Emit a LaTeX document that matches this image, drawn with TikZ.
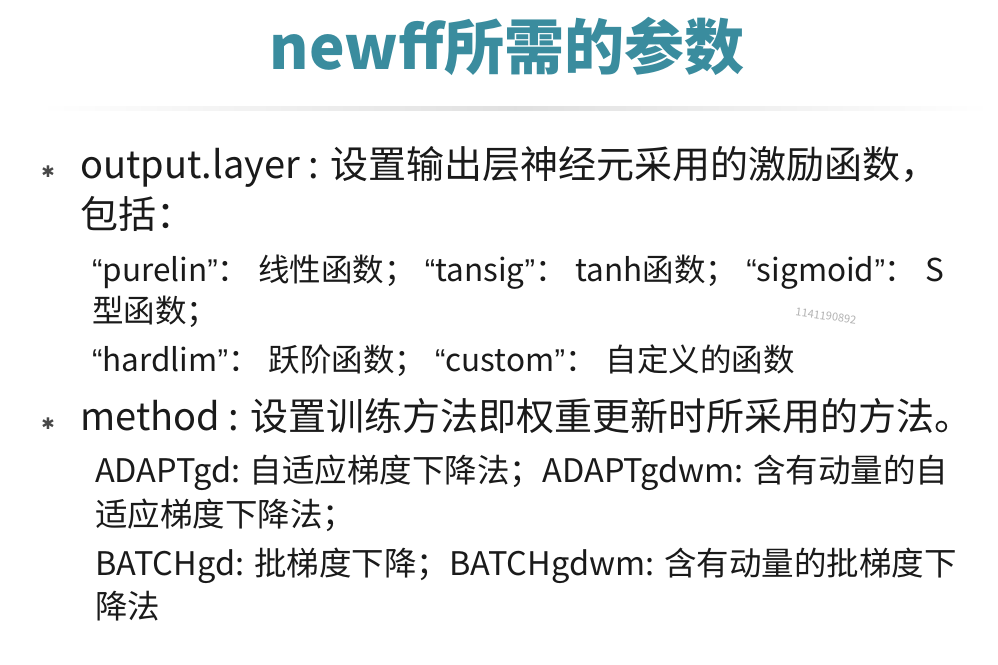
\documentclass[tikz,border=0pt]{standalone}
\usepackage{fontspec}
\setmainfont{Noto Sans CJK SC}
\newfontfamily\djv{DejaVu Sans}
\newfontfamily\lib{Liberation Sans}
\newcommand{\myLq}{{\lib “}}
\newcommand{\myRq}{{\lib ”}}
\newcommand{\gp}{\hspace{9pt}}
\definecolor{titlec}{HTML}{3A8C9E}
\definecolor{txt}{HTML}{1A1A1A}
\tikzset{
  big/.style={anchor=base west,inner sep=0,text=txt,font=\fontsize{38}{40}\selectfont},
  small/.style={anchor=base west,inner sep=0,text=txt,font=\fontsize{32.5}{34}\selectfont},
  bul/.style={anchor=center,inner sep=0,text=txt!80,font=\djv\fontsize{16}{16}\selectfont}
}
\begin{document}
\begin{tikzpicture}[x=1pt,y=-1pt]
\useasboundingbox[fill=white] (0,0) rectangle (998,664);
\node[anchor=center,text=titlec,font=\fontsize{60}{62}\selectfont\bfseries] (title) at (507,46) {newff所需的参数};
\shade[left color=white,right color=white,middle color=black!12] (40,106) rectangle (990,110);
\node[bul] (b1) at (48,172) {✱};
\node[big] (l1) at (80,178) {output.layer : 设置输出层神经元采用的激励函数，};
\node[big] (l2) at (80,228) {包括：};
\node[small,font=\fontsize{31.5}{34}\selectfont] (l3) at (92,281) {\myLq purelin\myRq：\gp 线性函数；\gp\myLq tansig\myRq：\gp tanh函数；\gp\myLq sigmoid\myRq：\gp S};
\node[small,font=\fontsize{31.5}{34}\selectfont] (l4) at (92,322) {型函数；};
\node[small,font=\fontsize{31.5}{34}\selectfont] (l5) at (92,371) {\myLq hardlim\myRq：\gp 跃阶函数；\gp\myLq custom\myRq：\gp 自定义的函数};
\node[bul] (b2) at (48,424) {✱};
\node[big] (l6) at (80,430) {method : 设置训练方法即权重更新时所采用的方法。};
\node[small] (l7) at (95,482) {ADAPTgd: 自适应梯度下降法；ADAPTgdwm: 含有动量的自};
\node[small] (l8) at (95,526) {适应梯度下降法；};
\node[small] (l9) at (95,575) {BATCHgd: 批梯度下降；BATCHgdwm: 含有动量的批梯度下};
\node[small] (l10) at (95,618) {降法};
\node[anchor=center,text=black!30,font=\fontsize{11}{11}\selectfont,rotate=-8] (wm) at (826,316) {1141190892};
\end{tikzpicture}
\end{document}
